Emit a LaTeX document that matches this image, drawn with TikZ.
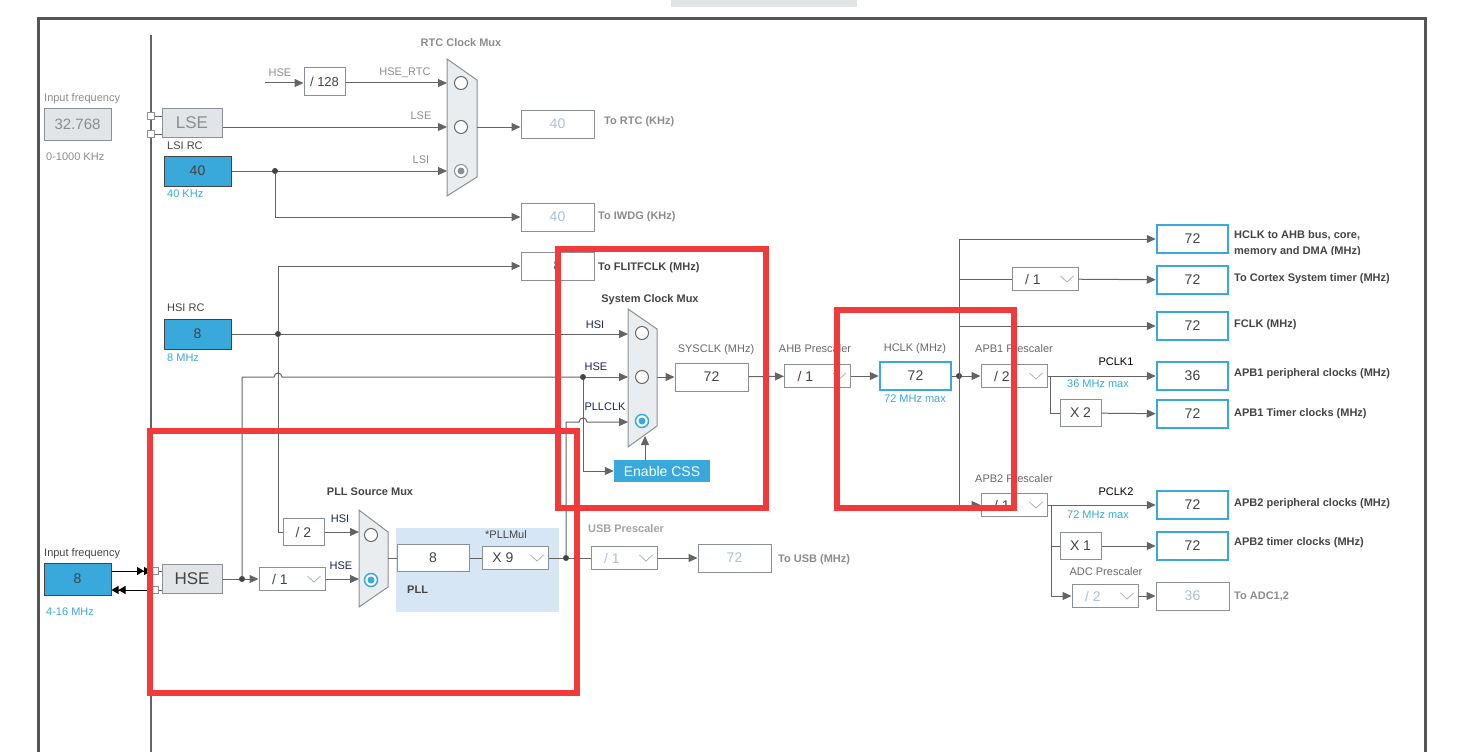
\documentclass[tikz,border=0pt]{standalone}
\usepackage{fontspec}
\setmainfont{Liberation Sans}
\usetikzlibrary{arrows.meta, positioning, calc}

\definecolor{cubeblue}{RGB}{57,168,219}
\definecolor{boxgray}{RGB}{138,144,150}
\definecolor{fillgray}{RGB}{225,229,232}
\definecolor{muxfill}{RGB}{233,237,240}
\definecolor{wire}{RGB}{100,100,100}
\definecolor{labgray}{RGB}{140,140,140}
\definecolor{labmid}{RGB}{105,105,105}
\definecolor{labdark}{RGB}{68,68,68}
\definecolor{navy}{RGB}{25,35,95}
\definecolor{dimtxt}{RGB}{168,194,220}
\definecolor{plltint}{RGB}{214,230,244}
\definecolor{markred}{RGB}{242,58,58}
\definecolor{framegray}{RGB}{85,85,85}

\begin{document}
\begin{tikzpicture}[x=1pt, y=-1pt,
  val/.style={draw=boxgray, fill=white, line width=1pt, minimum width=73pt, minimum height=28pt, inner sep=0pt, font=\fontsize{14}{16}\selectfont, text=labdark},
  outval/.style={val, draw=cubeblue, line width=2.5pt, minimum width=71pt},
  dimval/.style={val, text=dimtxt},
  srcbox/.style={draw=labdark, fill=cubeblue, line width=1pt, minimum width=67pt, minimum height=30pt, inner sep=0pt, font=\fontsize{14}{16}\selectfont, text=labdark},
  oscbox/.style={draw=boxgray, fill=fillgray, line width=1pt, minimum width=60pt, minimum height=29pt, inner sep=0pt, font=\fontsize{17}{19}\selectfont},
  presc/.style={draw=boxgray, fill=white, line width=1pt, minimum width=66pt, minimum height=23pt, inner sep=0pt, font=\fontsize{14}{16}\selectfont, text=labdark, execute at end node={\hspace{24pt}}},
  mult/.style={draw=boxgray, fill=white, line width=1pt, minimum width=41pt, minimum height=27pt, inner sep=0pt, font=\fontsize{14}{16}\selectfont, text=labdark},
  cssbox/.style={fill=cubeblue, minimum width=96pt, minimum height=22pt, inner sep=0pt, font=\fontsize{14}{16}\selectfont, text=white},
  mux/.style={draw=boxgray, fill=muxfill, line width=1pt},
  sel/.style={circle, draw=labmid, fill=white, line width=1pt, minimum size=13pt, inner sep=0pt},
  selon/.style={sel, draw=cubeblue, line width=1.5pt, path picture={\fill[cubeblue] (path picture bounding box.center) circle (3.5pt);}},
  selgray/.style={sel, draw=boxgray, path picture={\fill[boxgray] (path picture bounding box.center) circle (3.5pt);}},
  lab/.style={font=\fontsize{11}{13}\selectfont, text=labgray, inner sep=0pt},
  sig/.style={font=\fontsize{11}{13}\selectfont, text=navy, inner sep=0pt},
  muxtitle/.style={font=\fontsize{11}{13}\selectfont\bfseries, text=labdark, inner sep=0pt},
  outlab/.style={font=\fontsize{11}{13}\selectfont\bfseries, text=labdark, anchor=west, inner sep=0pt},
  arr/.style={-{Triangle[length=9pt, width=8pt]}, wire, line width=1pt},
  dbl/.style={-{Triangle[length=7pt, width=8pt]Triangle[length=7pt, width=8pt]}, black, line width=1pt},
  ln/.style={wire, line width=1pt},
  jdot/.style={circle, fill=labdark, minimum size=6pt, inner sep=0pt},
  pad/.style={draw=boxgray, fill=white, line width=1pt, minimum size=7pt, inner sep=0pt},
  redframe/.style={draw=markred, line width=5.5pt}
]
\useasboundingbox (0,0) rectangle (1460,752);

% frame
\fill[fillgray] (671,0) rectangle (857,7);
\draw[framegray, line width=3pt] (38,752) -- (38,19) -- (1425,19) -- (1425,752);
\draw[ln, line width=1.2pt] (151,35) -- (151,752);

% LSE, LSI and the RTC mux
\node[lab, anchor=west] (lsefreqlab) at (44,99) {Input frequency};
\node[oscbox, minimum width=67pt, minimum height=32pt, font=\fontsize{15}{17}\selectfont, text=labgray] (lsefreq) at (77.5,124) {32.768};
\node[lab, anchor=west] (lserange) at (46,157) {0-1000 KHz};
\node[pad] (lsepa) at (151,116) {};
\node[pad] (lsepb) at (151,134) {};
\node[oscbox, text=labgray] (lse) at (192,122.5) {LSE};
\draw[ln] (lsepa) -- (lsepa -| lse.west);
\draw[ln] (lsepb) -- (lsepb -| lse.west);

\node[muxtitle, text=labgray] (rtctitle) at (461,43) {RTC Clock Mux};
\draw[mux] (447,59) -- (477,80) -- (477,177) -- (447,196) -- cycle;
\node[sel] (rtcsa) at (461,83) {};
\node[sel] (rtcsb) at (461,127) {};
\node[selgray] (rtcsc) at (461,171) {};
\coordinate (rtcA) at (447,83);
\coordinate (rtcB) at (447,127);
\coordinate (rtcC) at (447,171);
\coordinate (rtcout) at (477,127);

\coordinate (hsertc) at (265,83);
\node[val, minimum width=41pt, font=\fontsize{13}{15}\selectfont] (divrtc) at (324.5,82) {/ 128};
\draw[arr] (hsertc) -- (hsertc -| divrtc.west);
\draw[arr] (divrtc.east |- rtcA) -- (rtcA);
\node[lab] (hsertclab) at (280,73) {HSE};
\node[lab] (hsertcout) at (405,73) {HSE\_RTC};
\draw[arr] (lse.east |- rtcB) -- (rtcB);
\node[lab] (lselab) at (421,116) {LSE};

\node[lab, text=labdark, anchor=west] (lsilab) at (167,146) {LSI RC};
\node[srcbox] (lsi) at (197.5,171) {40};
\node[lab, text=cubeblue, anchor=west] (lsirange) at (167,194) {40 KHz};
\draw[arr] (lsi) -- (rtcC);
\node[lab] (lsiin) at (421,160) {LSI};
\node[jdot] (lsij) at (275,171) {};
\node[dimval] (iwdg) at (557.5,217) {40};
\draw[arr] (lsij) |- (iwdg);
\node[outlab, text=labgray] (iwdglab) at (598,217) {To IWDG (KHz)};
\node[dimval] (rtcbox) at (557.5,124) {40};
\draw[arr] (rtcout) -- (rtcout -| rtcbox.west);
\node[outlab, text=labgray] (rtclab) at (604,122) {To RTC (KHz)};

% HSI
\node[lab, text=labdark, anchor=west] (hsilab) at (167,308) {HSI RC};
\node[srcbox] (hsi) at (197.5,334) {8};
\node[lab, text=cubeblue, anchor=west] (hsirange) at (167,358) {8 MHz};
\coordinate (sysA) at (628,334);
\coordinate (sysB) at (628,377);
\coordinate (sysC) at (628,422);
\draw[arr] (hsi) -- (sysA);
\node[val] (flit) at (557.5,266) {8};
\node[jdot] (hsij) at (278,334) {};
\draw[arr] (hsij) |- (flit);
\node[outlab] (flitlab) at (598,268) {To FLITFCLK (MHz)};
\node[mult] (hsidiv) at (303.5,532) {/ 2};
\draw[ln] (hsij) |- (hsidiv);

% HSE
\node[lab, text=labdark, anchor=west] (hsefreqlab) at (44,554) {Input frequency};
\node[srcbox, minimum height=32pt] (hsefreq) at (77.5,579) {8};
\node[lab, text=cubeblue, anchor=west] (hserange) at (46,612) {4-16 MHz};
\node[pad] (hsepa) at (155,571) {};
\node[pad] (hsepb) at (155,590) {};
\draw[dbl] (hsefreq.east |- hsepa) -- (hsepa);
\draw[dbl] (hsepb) -- (hsefreq.east |- hsepb);
\node[oscbox, text=labdark] (hse) at (192,579) {HSE};
\draw[ln] (hsepa) -- (hsepa -| hse.west);
\draw[ln] (hsepb) -- (hsepb -| hse.west);
\node[presc] (hsediv) at (292,579) {/ 1};
\draw[arr] (hse) -- (hsediv);
\node[jdot] (hsej) at (242,579) {};
\node[jdot] (sysj) at (583,377) {};
\draw[ln] (hsej) |- ($(hsij |- sysB)+(-4,0)$) arc[start angle=180, end angle=0, radius=4pt] -- (sysj);
\draw[arr] (sysj) -- (sysB);

% system clock mux
\node[muxtitle] (systitle) at (650,300) {System Clock Mux};
\draw[mux] (628,309) -- (657,329) -- (657,426) -- (628,447) -- cycle;
\node[sel] (syssa) at (642,333) {};
\node[sel] (syssb) at (642,377) {};
\node[selon] (syssc) at (642,421) {};
\node[sig] (syshsi) at (595,325) {HSI};
\node[sig] (syshse) at (596,367) {HSE};
\node[sig] (syspll) at (605,407) {PLLCLK};
\coordinate (sysout) at (657,377);
\coordinate (sysbot) at (645,436);
\node[cssbox] (css) at (662,471) {Enable CSS};
\draw[arr] (sysj) |- (css);
\draw[arr] (css.north -| sysbot) -- (sysbot);
\node[val] (sysclk) at (711.5,377) {72};
\draw[arr] (sysout) -- (sysclk);
\node[lab, text=labmid] (sysclklab) at (716,350) {SYSCLK (MHz)};

% AHB and HCLK
\node[presc] (ahb) at (817.5,376) {/ 1};
\node[lab, text=labmid] (ahblab) at (815,349) {AHB Prescaler};
\draw[arr] (sysclk) -- (ahb);
\node[outval] (hclk) at (915.5,376) {72};
\draw[arr] (ahb) -- (hclk);
\node[lab, text=labmid] (hclklab) at (915,349) {HCLK (MHz)};
\node[lab, text=cubeblue] (hclkmax) at (915,399) {72 MHz max};
\node[presc] (apbone) at (1014,376) {/ 2};
\node[lab, text=labmid] (apbonelab) at (1014,349) {APB1 Prescaler};
\node[jdot] (busj) at (959,376) {};
\draw[ln] (hclk) -- (busj);
\draw[arr] (busj) -- (apbone);
\coordinate (bustop) at (959,239);
\coordinate (busbot) at (959,505);
\draw[ln] (bustop) -- (busbot);

% HCLK outputs
\node[outval] (ahbout) at (1192.5,239) {72};
\draw[arr] (bustop) -- (ahbout);
\begin{scope}
  \clip (1230,224) rectangle (1420,254);
  \node[outlab] (ahboutlab) at (1234,235) {HCLK to AHB bus, core,};
  \node[outlab] (ahboutlabb) at (1234,252) {memory and DMA (MHz)};
\end{scope}
\node[presc] (systick) at (1045,279) {/ 1};
\draw[ln] (bustop |- systick) -- (systick);
\node[outval] (cortex) at (1192.5,280) {72};
\draw[arr] (systick) -- (cortex);
\node[outlab] (cortexlab) at (1234,279) {To Cortex System timer (MHz)};
\node[outval] (fclk) at (1192.5,326) {72};
\draw[arr] (bustop |- fclk) -- (fclk);
\node[outlab] (fclklab) at (1234,325) {FCLK (MHz)};

% APB1
\node[outval] (pclkone) at (1192.5,376) {36};
\draw[arr] (apbone) -- (pclkone);
\node[lab, text=black] (pclkonelab) at (1116,362) {PCLK1};
\node[lab, text=cubeblue] (pclkonemax) at (1098,384) {36 MHz max};
\node[outlab] (pclkoneout) at (1234,374) {APB1 peripheral clocks (MHz)};
\coordinate (apbonej) at (1050,376);
\node[mult] (timx) at (1080.5,413) {X 2};
\draw[ln] (apbonej) |- (timx);
\node[outval] (timone) at (1192.5,414) {72};
\draw[arr] (timx) -- (timone);
\node[outlab] (timonelab) at (1234,414) {APB1 Timer clocks (MHz)};

% APB2
\node[presc] (apbtwo) at (1014,505) {/ 1};
\node[lab, text=labmid] (apbtwolab) at (1014,479) {APB2 Prescaler};
\draw[arr] (busbot) -- (apbtwo);
\node[outval] (pclktwo) at (1192.5,505) {72};
\draw[arr] (apbtwo) -- (pclktwo);
\node[lab, text=black] (pclktwolab) at (1116,492) {PCLK2};
\node[lab, text=cubeblue] (pclktwomax) at (1098,515) {72 MHz max};
\node[outlab] (pclktwoout) at (1234,504) {APB2 peripheral clocks (MHz)};
\coordinate (apbtwoj) at (1051,505);
\node[mult] (timy) at (1080.5,546) {X 1};
\draw[ln] (apbtwoj) |- (timy);
\node[outval] (timtwo) at (1192.5,546) {72};
\draw[arr] (timy) -- (timtwo);
\node[outlab] (timtwolab) at (1234,543) {APB2 timer clocks (MHz)};
\node[presc, text=dimtxt] (adcpre) at (1105,596) {/ 2};
\node[lab, text=labmid] (adclab) at (1106,572) {ADC Prescaler};
\draw[arr] (apbtwoj) |- (adcpre);
\node[dimval] (adcout) at (1192.5,596) {36};
\draw[arr] (adcpre) -- (adcout);
\node[outlab, text=labgray] (adcoutlab) at (1234,597) {To ADC1,2};

% PLL
\node[muxtitle] (plltitle) at (370,492) {PLL Source Mux};
\fill[plltint] (396,528) rectangle (559,612);
\draw[mux] (359,510) -- (388,532) -- (388,587) -- (359,607) -- cycle;
\node[sel] (pllsa) at (371,535) {};
\node[selon] (pllsb) at (371,580) {};
\coordinate (pllA) at (359,532);
\coordinate (pllB) at (359,579);
\draw[arr] (hsidiv) -- (pllA);
\draw[arr] (hsediv) -- (pllB);
\node[sig] (pllhsi) at (340,519) {HSI};
\node[sig] (pllhse) at (341,566) {HSE};
\coordinate (pllmuxout) at (388,558);
\node[val, minimum width=72pt, minimum height=27pt] (pllin) at (433,558) {8};
\draw[ln] (pllmuxout) -- (pllin);
\node[presc] (pllmul) at (515,558) {X 9};
\draw[ln] (pllin) -- (pllmul);
\node[lab, text=labdark] (pllmullab) at (506,535) {*PLLMul};
\node[muxtitle, anchor=west] (plllab) at (407,590) {PLL};
\node[jdot] (pllj) at (566,558) {};
\draw[ln] (pllmul) -- (pllj);
\draw[arr] (pllj) |- ($(sysj |- sysC)+(-4,0)$) arc[start angle=180, end angle=0, radius=4pt] -- (sysC);

% USB
\node[presc, text=dimtxt] (usbpre) at (624,558) {/ 1};
\draw[ln] (pllj) -- (usbpre);
\node[muxtitle, text=labgray!80] (usblab) at (626,529) {USB Prescaler};
\node[dimval] (usbout) at (734.5,558) {72};
\draw[arr] (usbpre) -- (usbout);
\node[outlab, text=labgray] (usboutlab) at (778,560) {To USB (MHz)};

% prescaler chevrons
\foreach \p in {ahb, apbone, apbtwo, systick, hsediv, pllmul, usbpre, adcpre}
  \draw[boxgray!70, line width=0.8pt] ($(\p.east)+(-18,-3)$) -- ++(6.5,6) -- ++(6.5,-6);

% red marks
\draw[redframe] (558,249) rectangle (766,508);
\draw[redframe] (150,431) rectangle (577,693);
\draw[redframe] (837,310) rectangle (1014,508);

\end{tikzpicture}
\end{document}
